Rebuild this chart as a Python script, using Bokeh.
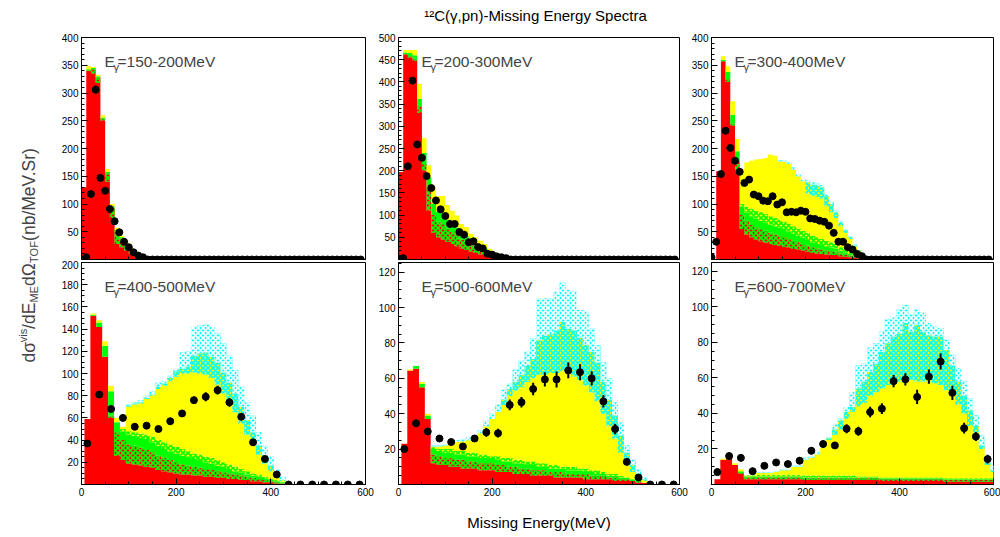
import numpy as np
from bokeh.plotting import figure
from bokeh.layouts import row, column
from bokeh.models import Range1d, FixedTicker, Label
from bokeh.embed import file_html
from bokeh.resources import INLINE

FONT = "Liberation Sans"

# ---------------- data ----------------
PANEL_TITLES = ["150-200MeV", "200-300MeV", "300-400MeV",
                "400-500MeV", "500-600MeV", "600-700MeV"]
ROW1_BIN_WIDTH = 10.0      # MeV, upper row histograms / data points
ROW2_BIN_WIDTH = 12.5      # MeV, lower row histograms
ROW2_DATA_WIDTH = 25.0     # MeV, lower row data points

# cumulative tops of the stacked components: red, red+green hatch, green,
# yellow with green hatch, yellow, yellow with cyan hatch, cyan
P1_RED = [130, 340, 335, 318, 250, 140, 75, 28, 22, 16, 10, 6, 3, 1]
P1_RHATCH = [130, 340, 343, 328, 254, 155, 93, 50, 38, 27, 17, 11, 5, 2]
P1_GREEN = [130, 343, 345, 330, 256, 158, 96, 53, 40, 28, 19, 12, 6, 3]
P1_YELLOW = [130, 348, 347, 333, 260, 163, 100, 57, 43, 31, 21, 14, 7, 3]

P2_RED = [197, 462, 455, 447, 330, 200, 110, 60, 50, 45, 40, 35, 30, 25, 22, 18, 15, 12, 10, 7, 5, 3, 2, 1]
P2_RHATCH = [197, 462, 458, 452, 345, 215, 160, 100, 85, 80, 70, 62, 55, 45, 40, 32, 27, 22, 18, 12, 9, 5, 3, 1]
P2_GREEN = [197, 466, 465, 460, 362, 240, 185, 125, 108, 105, 90, 80, 72, 58, 53, 42, 36, 30, 25, 17, 12, 7, 4, 2]
P2_YELLOW = [197, 472, 472, 472, 396, 273, 212, 163, 143, 143, 123, 110, 99, 80, 73, 58, 50, 42, 35, 24, 17, 9, 5, 2]

P3_RED = [0, 159, 357, 320, 241, 160, 55, 45, 40, 36, 33, 30, 28, 26, 25, 23, 21, 19, 18, 16, 14, 12, 11, 10, 9, 8, 8, 6, 5, 4, 3, 2, 1]
P3_RHATCH = [0, 159, 357, 325, 245, 178, 80, 70, 62, 58, 55, 52, 48, 45, 43, 40, 37, 34, 31, 28, 25, 22, 20, 18, 16, 15, 14, 11, 9, 7, 5, 3, 2]
P3_GREEN = [0, 159, 360, 338, 261, 195, 95, 85, 78, 74, 70, 67, 63, 60, 58, 55, 50, 46, 43, 39, 35, 31, 28, 26, 24, 22, 20, 16, 13, 10, 7, 5, 3]
P3_YHATCH = [0, 159, 360, 338, 261, 195, 100, 95, 92, 88, 85, 82, 78, 75, 72, 68, 64, 60, 56, 52, 48, 43, 40, 37, 34, 31, 28, 22, 18, 14, 10, 7, 4]
P3_YELLOW = [0, 159, 366, 348, 285, 217, 163, 175, 178, 180, 181, 183, 189, 187, 177, 176, 172, 162, 150, 141, 119, 115, 113, 110, 96, 85, 75, 60, 48, 37, 23, 15, 6]
P3_CHATCH = [0, 159, 366, 348, 285, 217, 163, 175, 178, 180, 181, 183, 189, 187, 177, 176, 172, 162, 150, 141, 139, 135, 133, 130, 114, 100, 85, 67, 52, 40, 25, 16, 6]
P3_CYAN = [0, 159, 366, 348, 285, 217, 163, 175, 178, 180, 181, 183, 189, 187, 179, 178, 175, 166, 154, 145, 143, 139, 137, 134, 118, 104, 88, 70, 54, 42, 27, 17, 7]

P4_RED = [59, 152, 142, 115, 60, 26, 22, 19, 18, 17, 16, 15, 13, 12, 11, 10, 9, 9, 8, 8, 7, 7, 6, 6, 5, 5, 4, 4, 3, 3, 2, 2, 1, 1, 0]
P4_RHATCH = [59, 152, 142, 115, 62, 47, 40, 36, 35, 33, 31, 29, 26, 24, 22, 20, 18, 17, 16, 15, 14, 13, 12, 11, 10, 9, 8, 7, 6, 5, 4, 3, 2, 1, 0]
P4_GREEN = [59, 153, 146, 125, 84, 56, 48, 45, 44, 42, 41, 38, 35, 32, 30, 28, 26, 25, 23, 22, 20, 19, 17, 16, 14, 12, 11, 9, 8, 7, 5, 4, 3, 2, 0]
P4_YHATCH = [59, 153, 146, 125, 84, 56, 50, 48, 47, 46, 45, 43, 40, 38, 36, 34, 32, 30, 28, 27, 25, 24, 22, 20, 18, 16, 14, 12, 10, 9, 7, 5, 4, 2, 0]
P4_YELLOW = [59, 154, 148, 129, 89, 60, 52, 70, 72, 73, 77, 80, 86, 89, 93, 97, 100, 100, 101, 100, 99, 96, 90, 82, 74, 65, 55, 45, 36, 27, 19, 12, 7, 3, 1]
P4_CHATCH = [59, 154, 148, 129, 89, 60, 52, 71, 73, 74, 78, 81, 88, 91, 96, 102, 104, 106, 116, 118, 119, 115, 110, 101, 92, 82, 70, 58, 47, 35, 26, 17, 10, 4, 1]
P4_CYAN = [59, 154, 148, 129, 89, 60, 52, 72, 74, 76, 80, 84, 92, 93, 98, 104, 119, 120, 142, 143, 144, 142, 136, 127, 116, 103, 88, 74, 62, 47, 35, 25, 14, 7, 2]

P5_RED = [23, 64.5, 65.5, 55, 37, 12, 11, 11, 10, 10, 9, 9, 9, 8, 8, 8, 7, 7, 7, 6, 6, 6, 5, 5, 5, 5, 4, 4, 4, 4, 4, 3, 3, 3, 3, 3, 2, 2, 2, 2, 1, 1, 0]
P5_RHATCH = [23, 64.5, 65.5, 55, 37, 17, 16, 15, 15, 14, 14, 13, 13, 12, 12, 12, 11, 11, 10, 10, 9, 9, 8, 8, 8, 7, 7, 7, 6, 6, 6, 6, 5, 5, 5, 4, 4, 3, 3, 2, 2, 1, 0]
P5_GREEN = [23, 64.5, 67, 57, 39, 20, 19, 18, 18, 17, 17, 16, 16, 15, 15, 15, 14, 13, 13, 12, 12, 11, 11, 10, 10, 9, 9, 9, 8, 8, 8, 7, 7, 6, 6, 5, 5, 4, 4, 3, 2, 1, 0]
P5_YHATCH = [23, 64.5, 67, 57, 39, 21, 20, 20, 20, 19, 19, 18, 18, 17, 17, 16, 16, 15, 15, 14, 14, 13, 13, 12, 12, 11, 11, 10, 10, 10, 9, 9, 8, 8, 7, 6, 6, 5, 4, 3, 2, 1, 0]
P5_YELLOW = [23, 65, 67, 58, 40, 21.5, 21.5, 22, 23, 24, 24.5, 25, 27, 29, 33, 37, 41, 45, 50, 53, 55, 58, 60, 62, 62, 63, 63, 64, 63, 61, 59, 56, 52, 47, 40, 33, 26, 18, 11, 7, 4, 2, 0.5]
P5_CHATCH = [23, 65, 67, 58, 40, 21.5, 21.5, 22, 23, 24, 24.5, 25, 27, 29, 33, 37, 41, 48, 54, 58, 62, 67, 71, 81.5, 84, 85, 87, 92, 88, 87, 83, 79, 75, 69, 58, 48, 39, 27.6, 18, 11, 6, 3, 0.5]
P5_CYAN = [23, 65, 67, 58, 40, 22, 22, 22.5, 24, 25, 25.5, 26.5, 28, 30.5, 36, 40, 45.5, 54, 57, 65, 70, 75, 82.5, 105, 105.5, 105, 109, 114, 110, 109, 98.6, 97.6, 88, 78.7, 69, 60, 46.5, 35, 22, 14, 8.6, 4, 1]

P6_RED = [3, 14, 16, 11, 6, 3, 3, 3, 3, 3, 3, 3, 3, 3, 3, 2.5, 2.5, 2.5, 2.5, 2.5, 2.5, 2.5, 2.5, 2.5,
          2.5, 2.5, 2.5, 2.5, 2, 2, 2, 2, 2, 2, 2, 2, 2, 2, 2, 1.5, 1.5, 1.5, 1.5, 1.5, 1.5, 1.5, 1.5, 1.5]
P6_RHATCH = [3, 14, 16, 11, 6.5, 4, 4, 4, 4, 4, 4, 4, 4, 4, 4, 3.5, 3.5, 3.5, 3.5, 3.5, 3.5, 3.5, 3.5, 3.5,
             3.5, 3.5, 3.5, 3.5, 3, 3, 3, 3, 3, 3, 3, 3, 3, 3, 3, 2.5, 2.5, 2.5, 2.5, 2.5, 2.5, 2.5, 2.5, 2.5]
P6_GREEN = [3, 14, 16, 11, 7, 4.5, 4.5, 4.5, 4.5, 4.5, 4.5, 4.5, 4.5, 4.5, 4.5, 4, 4, 4, 4, 4, 4, 4, 4, 4,
            4, 4, 4, 4, 3.5, 3.5, 3.5, 3.5, 3.5, 3.5, 3.5, 3.5, 3.5, 3.5, 3.5, 3, 3, 3, 3, 3, 3, 3, 3, 3]
P6_YHATCH = [3, 14, 16, 11, 7.5, 5, 5, 5.5, 5.5, 5.5, 5.5, 5.5, 5.5, 5.5, 5.5, 5, 5, 5, 5, 5, 5, 5, 5, 5,
             4.5, 4.5, 4.5, 4.5, 4, 4, 4, 4, 4, 4, 4, 4, 4, 4, 4, 3.5, 3.5, 3.5, 3.5, 3.5, 3.5, 3.5, 3.5, 3.5]
P6_YELLOW = [3, 14.5, 16.5, 12, 8.5, 5, 5, 6.5, 6.5, 6.5, 7, 8, 8, 10, 10, 14, 15, 17, 21, 25, 28, 31, 37, 41,
             44, 46, 50, 52, 54, 56, 57, 58, 59, 59, 58, 58, 58, 57, 56, 53, 50, 45, 40, 33, 27, 20, 11, 7]
P6_CHATCH = [3, 14.5, 16.5, 12, 8.5, 5, 5, 6.5, 6.5, 6.5, 7, 8, 8, 10, 10, 14, 15, 17, 21, 26, 31, 36, 40.8, 43.6,
             54, 58, 63.5, 68, 74.8, 79.6, 83.4, 85, 91, 86, 90, 86, 84, 83.4, 83.4, 75.8, 67, 58, 50, 41.7, 33, 22, 12.4, 7.7]
P6_CYAN = [3, 14.5, 16.5, 12, 8.5, 5, 5, 6.7, 6.7, 6.7, 7.5, 8.6, 8.6, 10.5, 10.5, 15, 16, 18, 22, 26.5, 34, 37, 43.6, 52,
           67, 68, 77, 79.6, 86, 93, 94, 98.6, 101, 95.7, 98.6, 96.7, 91, 89, 88, 81.5, 73, 65.4, 58, 48.4, 39, 27.6, 16, 10.5]

# measured data points (upper row: 0,10,...,590 MeV; lower row: 12.5,37.5,...,587.5 MeV)
P1_DATA = [0, 4, 118, 306, 147, 124, 91, 69, 49, 32, 22, 13, 7, 4, 0, 0, 0, 0, 0, 0,
           0, 0, 0, 0, 0, 0, 0, 0, 0, 0, 0, 0, 0, 0, 0, 0, 0, 0, 0, 0,
           0, 0, 0, 0, 0, 0, 0, 0, 0, 0, 0, 0, 0, 0, 0, 0, 0, 0, 0, 0]
P1_ERR = [0, 2, 4, 7, 5, 5, 4, 4, 3, 3, 2, 2, 1, 1, 0, 0, 0, 0, 0, 0,
          0, 0, 0, 0, 0, 0, 0, 0, 0, 0, 0, 0, 0, 0, 0, 0, 0, 0, 0, 0,
          0, 0, 0, 0, 0, 0, 0, 0, 0, 0, 0, 0, 0, 0, 0, 0, 0, 0, 0, 0]
P2_DATA = [0, 3, 210, 403, 259, 229, 188, 161, 133, 113, 98, 80, 80, 62, 56, 39, 41, 28, 25, 13,
           11, 7, 5, 3, 0, 0, 0, 0, 0, 0, 0, 0, 0, 0, 0, 0, 0, 0, 0, 0,
           0, 0, 0, 0, 0, 0, 0, 0, 0, 0, 0, 0, 0, 0, 0, 0, 0, 0, 0, 0]
P2_ERR = [0, 1, 4, 6, 5, 4, 4, 4, 3, 3, 3, 3, 3, 3, 3, 3, 3, 2, 2, 2,
          2, 1, 1, 1, 0, 0, 0, 0, 0, 0, 0, 0, 0, 0, 0, 0, 0, 0, 0, 0,
          0, 0, 0, 0, 0, 0, 0, 0, 0, 0, 0, 0, 0, 0, 0, 0, 0, 0, 0, 0]
P3_DATA = [4, 32, 154, 232, 201, 178, 158, 138, 144, 117, 114, 106, 105, 114, 99, 103, 85, 86, 85, 88,
           86, 74, 73, 70, 68, 61, 48, 32, 32, 22, 18, 10, 6, 0, 0, 0, 0, 0, 0, 0,
           0, 0, 0, 0, 0, 0, 0, 0, 0, 0, 0, 0, 0, 0, 0, 0, 0, 0, 0, 0]
P3_ERR = [1, 3, 5, 6, 5, 5, 5, 4, 4, 4, 4, 4, 4, 4, 4, 4, 3, 3, 3, 3,
          3, 3, 3, 3, 3, 3, 3, 2, 2, 2, 2, 1, 1, 0, 0, 0, 0, 0, 0, 0,
          0, 0, 0, 0, 0, 0, 0, 0, 0, 0, 0, 0, 0, 0, 0, 0, 0, 0, 0, 0]
P4_DATA = [37, 81, 68, 60, 52, 53, 50, 57, 64, 76, 79, 85, 74, 61, 38, 23, 9, 0, 0, 0, 0, 0, 0, 0]
P4_ERR = [2, 3, 3, 2, 2, 2, 2, 2, 3, 3, 4, 4, 4, 3, 3, 2, 2, 0, 0, 0, 0, 0, 0, 0]
P5_DATA = [20, 34.6, 30, 26, 24, 21.5, 26, 29.5, 29, 45, 46.5, 54, 59.4, 59.4, 64.5, 63.5, 60, 47, 31.4, 12.8, 4, 0, 0, 0]
P5_ERR = [1.5, 2, 2, 1.5, 1.5, 1.5, 2, 2.5, 2.5, 3, 3, 3.5, 4, 4.5, 4.5, 4.5, 4, 3.5, 3, 2, 1, 0, 0, 0]
P6_DATA = [7, 16, 15, 7.5, 10.5, 12.4, 11.5, 13.4, 19, 22.8, 22, 31.4, 30, 40.8, 42.7, 58.2, 59.2, 49.3, 60.7, 69.2, 51.6, 31.7, 27, 14.3]
P6_ERR = [2, 2, 2, 1.5, 1.5, 1.5, 1.5, 2, 2, 2, 2, 2.5, 2.5, 3, 3, 3.5, 3.5, 4, 4, 4.5, 4, 3, 2.5, 2.5]

Y_MAX = [400, 500, 400, 200, 125.5, 125]
Y_TICKS = [[50, 100, 150, 200, 250, 300, 350, 400],
           [50, 100, 150, 200, 250, 300, 350, 400, 450, 500],
           [50, 100, 150, 200, 250, 300, 350, 400],
           [20, 40, 60, 80, 100, 120, 140, 160, 180, 200],
           [20, 40, 60, 80, 100, 120],
           [20, 40, 60, 80, 100, 120]]
X_TICKS = [0, 200, 400, 600]
TITLE = "¹²C(γ,pn)-Missing Energy Spectra"
X_TITLE = "Missing Energy(MeV)"

# ---------------- styling ----------------
LAYER_STYLES = [("#ff0000", None), ("#ff0000", "#00ff00"), ("#00ff00", None),
                ("#ffff00", "#00ff00"), ("#ffff00", None), ("#ffff00", "#00ffff"),
                ("#00ffff", "#ffffff")]


def draw_hist(p, edges, layers):
    n = len(layers[0])
    prev = np.zeros(n)
    for arr, (fill, hcol) in zip(layers, LAYER_STYLES):
        top = prev if arr is None else np.asarray(arr, dtype=float)
        if np.any(top > prev):
            y1 = np.append(prev, prev[-1])
            y2 = np.append(top, top[-1])
            kw = dict(fill_color=fill, fill_alpha=1.0)
            if hcol:
                kw.update(hatch_pattern="x", hatch_color=hcol, hatch_scale=5, hatch_weight=1.6)
            p.varea_step(x=edges, y1=y1, y2=y2, step_mode="after", **kw)
        prev = top


def draw_data(p, x, y, err):
    x = np.asarray(x, float)
    y = np.asarray(y, float)
    e = np.asarray(err, float)
    p.segment(x0=x, y0=y - e, x1=x, y1=y + e, line_color="black", line_width=2)
    p.scatter(x=x, y=y, size=7, marker="circle", fill_color="black", line_color="black")


def make_panel(i, w, h, bl, br, bt, bb, lower):
    ymax = Y_MAX[i]
    p = figure(width=w, height=h, x_range=Range1d(0, 600), y_range=Range1d(0, ymax),
               output_backend="svg", toolbar_location=None,
               min_border_left=bl, min_border_right=br, min_border_top=bt, min_border_bottom=bb)
    p.grid.visible = False
    p.outline_line_color = "black"
    p.outline_line_width = 1
    p.background_fill_color = "white"
    p.border_fill_color = "white"
    step = Y_TICKS[i][1] - Y_TICKS[i][0]
    minor_step = step / 5 if step == 50 else step / 4
    x_minor = list(np.arange(0, 601, 50))
    if lower:
        p.xaxis.ticker = FixedTicker(ticks=X_TICKS, minor_ticks=x_minor)
    else:
        # upper row: no tick labels on the x axis, only tick marks
        p.xaxis.ticker = FixedTicker(ticks=[], minor_ticks=x_minor)
    p.yaxis.ticker = FixedTicker(ticks=Y_TICKS[i], minor_ticks=list(np.arange(0, ymax + 0.1, minor_step)))
    for ax in (p.xaxis[0], p.yaxis[0]):
        ax.major_tick_in = 6
        ax.major_tick_out = 0
        ax.minor_tick_in = 3
        ax.minor_tick_out = 0
        ax.major_tick_line_color = "black"
        ax.minor_tick_line_color = "black"
        ax.axis_line_color = "black"
        ax.major_label_text_font = FONT
        ax.major_label_text_font_size = "10px"
        ax.major_label_text_color = "black"
        ax.major_label_standoff = 3
    if not lower:
        p.xaxis.major_label_standoff = 0
    # panel label  E_gamma=...
    p.add_layout(Label(x=23, y=198, x_units="screen", y_units="screen", text="E",
                       text_font=FONT, text_font_size="15.5px", text_baseline="middle"))
    p.add_layout(Label(x=32, y=193, x_units="screen", y_units="screen", text="γ",
                       text_font=FONT, text_font_size="11px", text_baseline="middle"))
    p.add_layout(Label(x=36, y=198, x_units="screen", y_units="screen", text="=" + PANEL_TITLES[i],
                       text_font=FONT, text_font_size="15.5px", text_baseline="middle"))
    return p


layers = [
    [P1_RED, P1_RHATCH, P1_GREEN, None, P1_YELLOW, None, None],
    [P2_RED, P2_RHATCH, P2_GREEN, None, P2_YELLOW, None, None],
    [P3_RED, P3_RHATCH, P3_GREEN, P3_YHATCH, P3_YELLOW, P3_CHATCH, P3_CYAN],
    [P4_RED, P4_RHATCH, P4_GREEN, P4_YHATCH, P4_YELLOW, P4_CHATCH, P4_CYAN],
    [P5_RED, P5_RHATCH, P5_GREEN, P5_YHATCH, P5_YELLOW, P5_CHATCH, P5_CYAN],
    [P6_RED, P6_RHATCH, P6_GREEN, P6_YHATCH, P6_YELLOW, P6_CHATCH, P6_CYAN],
]
datas = [(P1_DATA, P1_ERR), (P2_DATA, P2_ERR), (P3_DATA, P3_ERR),
         (P4_DATA, P4_ERR), (P5_DATA, P5_ERR), (P6_DATA, P6_ERR)]

# widths/borders of the three columns
COLS = [(330, 36, 10), (313, 22, 9), (312, 22, 7)]
figs = []
for i in range(6):
    lower = i >= 3
    w, bl, br = COLS[i % 3]
    if lower:
        p = make_panel(i, w, 277, bl, br, 2, 53, True)
        n = len(layers[i][0])
        edges = ROW2_BIN_WIDTH * (np.arange(n + 1) + 0.5)
        dx = ROW2_DATA_WIDTH * (np.arange(len(datas[i][0])) + 0.5)
    else:
        p = make_panel(i, w, 230, bl, br, 7, 1, False)
        n = len(layers[i][0])
        edges = ROW1_BIN_WIDTH * np.arange(n + 1)
        dx = ROW1_BIN_WIDTH * np.arange(len(datas[i][0]))
    draw_hist(p, edges, layers[i])
    draw_data(p, dx, datas[i][0], datas[i][1])
    figs.append(p)

# overall title strip
ft = figure(width=955, height=30, x_range=Range1d(0, 955), y_range=Range1d(0, 30),
            output_backend="svg", toolbar_location=None, min_border=0,
            x_axis_location=None, y_axis_location=None)
ft.grid.visible = False
ft.outline_line_color = None
ft.border_fill_color = "white"
ft.add_layout(Label(x=490, y=15, text=TITLE, text_font=FONT, text_font_size="15px",
                    text_align="center", text_baseline="middle", text_color="black"))

# x-axis title (on the middle lower panel)
ax5 = figs[4].xaxis[0]
ax5.axis_label = X_TITLE
ax5.axis_label_text_font = FONT
ax5.axis_label_text_font_size = "15px"
ax5.axis_label_text_font_style = "normal"
ax5.axis_label_text_color = "black"
ax5.axis_label_standoff = 15

# y-axis title strip
f0 = figure(width=45, height=537, x_range=Range1d(0, 45), y_range=Range1d(0, 537),
            output_backend="svg", toolbar_location=None, min_border=0,
            x_axis_location=None, y_axis_location=None)
f0.grid.visible = False
f0.outline_line_color = None
f0.border_fill_color = "white"
YL = [("dσ", 17.5, 175.0, 28), ("vis", 11, 195.2, 22), ("/dE", 17.5, 208.6, 28),
      ("ME", 11, 234.9, 33), ("dΩ", 17.5, 251.4, 28), ("TOF", 11, 274.6, 33),
      (" (nb/MeV.Sr)", 17.5, 296.6, 28)]
for txt, fs, yy, xx in YL:
    f0.add_layout(Label(x=xx, y=yy, text=txt, angle=np.pi / 2, text_font=FONT,
                        text_font_size=f"{fs}px", text_align="left", text_baseline="middle"))

layout = row(f0, column(ft, row(figs[0], figs[1], figs[2]), row(figs[3], figs[4], figs[5])))
open("out.html", "w").write(file_html(layout, INLINE))
